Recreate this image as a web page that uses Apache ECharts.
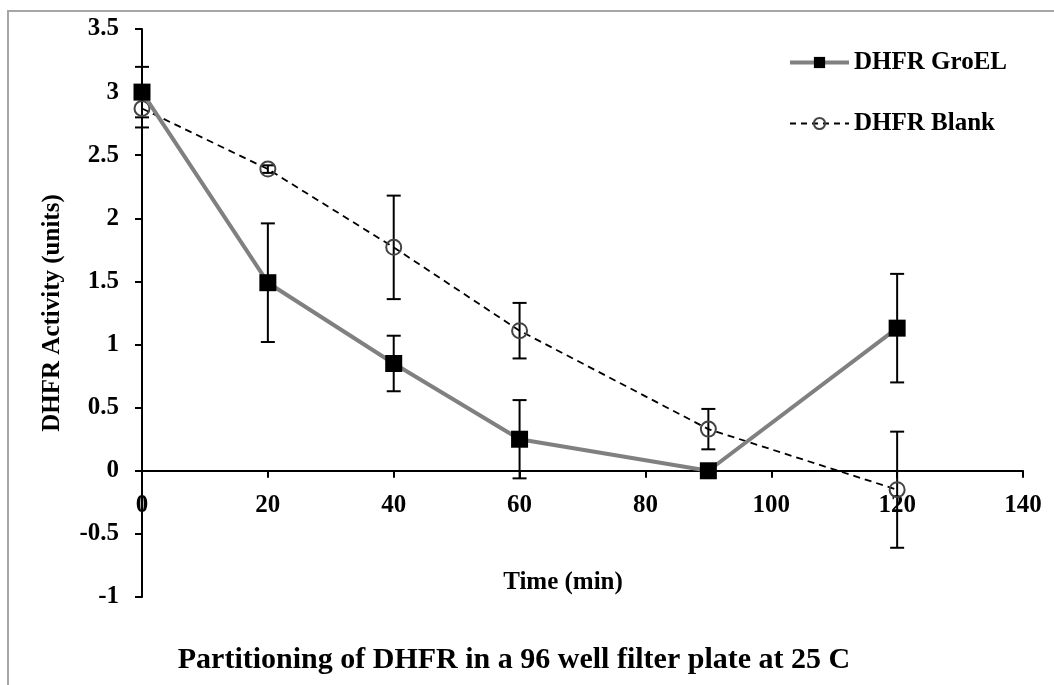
<!DOCTYPE html>
<html>
<head>
<meta charset="utf-8">
<script src="https://cdn.jsdelivr.net/npm/echarts@6/dist/echarts.min.js"></script>
<style>html,body{margin:0;padding:0;background:#fff}#c{width:1054px;height:685px}</style>
</head>
<body>
<div id="c"></div>
<script>
const times = [0, 20, 40, 60, 90, 120];
const groelValues = [3.0, 1.49, 0.85, 0.25, 0.0, 1.13];
const groelErrors = [0.2, 0.47, 0.22, 0.31, 0.0, 0.43];
const blankValues = [2.87, 2.39, 1.77, 1.11, 0.33, -0.15];
const blankErrors = [0.15, 0.03, 0.41, 0.22, 0.16, 0.46];
const yTicks = { min: -1, max: 3.5, interval: 0.5 };
const xTicks = { min: 0, max: 140, interval: 20 };

const FONT = "'Liberation Serif', 'Times New Roman', serif";
const GRID = { left: 142, right: 31, top: 29, bottom: 88 };
const plotH = 685 - GRID.top - GRID.bottom;
const xAxisOffset = -plotH * (0 - yTicks.min) / (yTicks.max - yTicks.min);

function pairs(xs, ys) { return xs.map((x, i) => [x, ys[i]]); }
function errData(xs, ys, es) { return xs.map((x, i) => [x, ys[i] - es[i], ys[i] + es[i]]); }

function errRender(params, api) {
  const x = api.value(0), lo = api.value(1), hi = api.value(2);
  if (hi - lo <= 0) return null;
  const pLo = api.coord([x, lo]);
  const pHi = api.coord([x, hi]);
  const w = 7;
  const style = { stroke: '#000', lineWidth: 2 };
  return {
    type: 'group',
    children: [
      { type: 'line', shape: { x1: pLo[0], y1: pLo[1], x2: pHi[0], y2: pHi[1] }, style },
      { type: 'line', shape: { x1: pLo[0] - w, y1: pLo[1], x2: pLo[0] + w, y2: pLo[1] }, style },
      { type: 'line', shape: { x1: pHi[0] - w, y1: pHi[1], x2: pHi[0] + w, y2: pHi[1] }, style }
    ]
  };
}

const chart = echarts.init(document.getElementById('c'));
chart.setOption({
  animation: false,
  backgroundColor: '#fff',
  grid: GRID,
  graphic: [
    { type: 'rect', shape: { x: 8, y: 11, width: 1100, height: 700 }, style: { fill: 'none', stroke: '#a6a6a6', lineWidth: 2 }, z: -1 },
    { type: 'text', x: 53, y: 313, rotation: Math.PI / 2, style: { text: 'DHFR Activity (units)', font: "bold 25px " + FONT, fill: '#000', align: 'center', verticalAlign: 'middle' } },
    { type: 'text', x: 563, y: 583, style: { text: 'Time (min)', font: "bold 25px " + FONT, fill: '#000', align: 'center', verticalAlign: 'middle' } },
    { type: 'text', x: 514, y: 660, style: { text: 'Partitioning of DHFR in a 96 well filter plate at 25 C', font: "bold 30px " + FONT, fill: '#000', align: 'center', verticalAlign: 'middle' } }
  ],
  legend: {
    orient: 'vertical',
    left: 783,
    top: 45,
    itemWidth: 59,
    itemHeight: 14,
    itemGap: 36,
    data: [
      { name: 'DHFR GroEL', lineStyle: { width: 4, color: '#808080' } },
      { name: 'DHFR Blank', lineStyle: { width: 2, color: '#000', type: [6, 5] } }
    ],
    textStyle: { fontFamily: FONT, fontWeight: 'bold', fontSize: 25, color: '#000' }
  },
  xAxis: {
    type: 'value', min: xTicks.min, max: xTicks.max, interval: xTicks.interval,
    offset: xAxisOffset,
    axisLine: { onZero: false, lineStyle: { color: '#000', width: 2 } },
    axisTick: { show: true, length: 7, lineStyle: { color: '#000', width: 2 } },
    axisLabel: { margin: 22, fontFamily: FONT, fontWeight: 'bold', fontSize: 25, color: '#000' },
    splitLine: { show: false }
  },
  yAxis: {
    type: 'value', min: yTicks.min, max: yTicks.max, interval: yTicks.interval,
    axisLine: { show: true, lineStyle: { color: '#000', width: 2 } },
    axisTick: { show: true, length: 7, lineStyle: { color: '#000', width: 2 } },
    axisLabel: { margin: 23, fontFamily: FONT, fontWeight: 'bold', fontSize: 25, color: '#000' },
    splitLine: { show: false }
  },
  series: [
    { type: 'custom', name: 'errBlank', renderItem: errRender, data: errData(times, blankValues, blankErrors), z: 3, silent: true },
    { type: 'custom', name: 'errGroel', renderItem: errRender, data: errData(times, groelValues, groelErrors), z: 3, silent: true },
    {
      type: 'line', name: 'DHFR Blank', data: pairs(times, blankValues),
      symbol: 'circle', symbolSize: 15,
      lineStyle: { color: '#000', width: 1.8, type: [7, 5] },
      itemStyle: { color: 'rgba(255,255,255,0)', borderColor: '#444', borderWidth: 2 },
      z: 4
    },
    {
      type: 'line', name: 'DHFR GroEL', data: pairs(times, groelValues),
      symbol: 'rect', symbolSize: 17,
      lineStyle: { color: '#808080', width: 4 },
      itemStyle: { color: '#000', borderWidth: 0 },
      z: 5
    }
  ]
});
</script>
</body>
</html>
